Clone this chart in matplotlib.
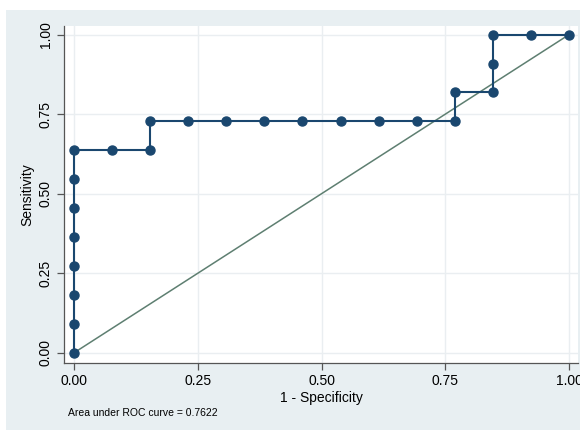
import matplotlib
matplotlib.use("Agg")
import matplotlib.pyplot as plt
from matplotlib.patches import Rectangle

# ROC points (1 - specificity, sensitivity)
fpr = [0.0, 0.0, 0.0, 0.0, 0.0, 0.0, 0.0, 0.0,
       0.0769, 0.1538, 0.1538, 0.2308, 0.3077, 0.3846, 0.4615,
       0.5385, 0.6154, 0.6923, 0.7692, 0.7692, 0.8462, 0.8462,
       0.8462, 0.9231, 1.0]
tpr = [0.0, 0.0909, 0.1818, 0.2727, 0.3636, 0.4545, 0.5455, 0.6364,
       0.6364, 0.6364, 0.7273, 0.7273, 0.7273, 0.7273, 0.7273,
       0.7273, 0.7273, 0.7273, 0.7273, 0.8182, 0.8182, 0.9091,
       1.0, 1.0, 1.0]
ref_line = [0.0, 1.0]
ticks = [0.0, 0.25, 0.5, 0.75, 1.0]
tick_labels = ["0.00", "0.25", "0.50", "0.75", "1.00"]
auc_text = "Area under ROC curve = 0.7622"

plt.rcParams["font.family"] = ["Liberation Sans", "DejaVu Sans"]

navy = "#1a476f"
bg = "#e8eff2"

fig = plt.figure(figsize=(5.8, 4.3), dpi=100, facecolor="white")
# graph region background (Stata-like light blue)
fig.patches.append(Rectangle((6 / 580, 0), 1, 1 - 10 / 430, transform=fig.transFigure,
                             facecolor=bg, edgecolor="none", zorder=-5))

ax = fig.add_axes([64 / 580, 67 / 430, 514 / 580, 337 / 430])
ax.set_facecolor("white")

ax.plot(ref_line, ref_line, color="#5e7f71", lw=1.1, zorder=2)
ax.plot(fpr, tpr, color=navy, lw=1.5, marker="o", markersize=6.5,
        markerfacecolor=navy, markeredgecolor=navy, zorder=3)

ax.set_xlim(-0.0202, 1.018)
ax.set_ylim(-0.032, 1.027)
ax.set_xticks(ticks)
ax.set_xticklabels(tick_labels, fontsize=10)
ax.set_yticks(ticks)
ax.set_yticklabels(tick_labels, fontsize=10, rotation=90, va="center")
ax.grid(True, color="#eaeef1", lw=1.0)
ax.set_axisbelow(True)

for side in ["top", "right"]:
    ax.spines[side].set_visible(False)
for side in ["left", "bottom"]:
    ax.spines[side].set_color("#555555")
    ax.spines[side].set_linewidth(0.9)
ax.tick_params(direction="out", length=5, width=0.9, color="#555555", pad=3)

ax.set_xlabel("1 - Specificity", fontsize=10, labelpad=2)
ax.set_ylabel("Sensitivity", fontsize=10, labelpad=3)

fig.text(68 / 580, 1 - 413 / 430, auc_text, fontsize=7.5, va="center", ha="left")

fig.savefig("out.png", dpi=100, facecolor="white")
